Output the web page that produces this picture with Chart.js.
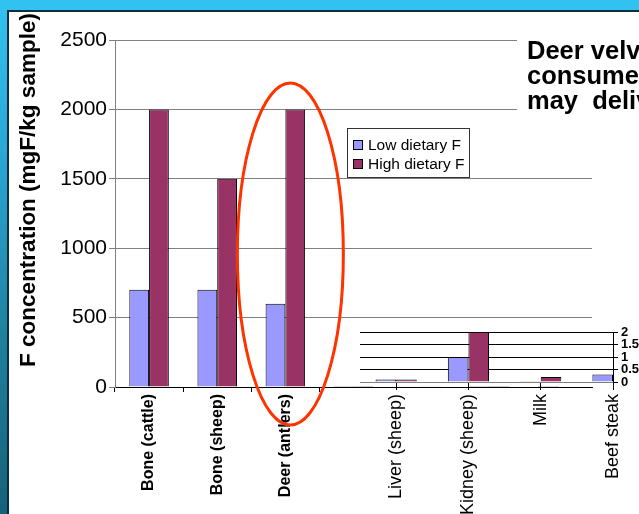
<!DOCTYPE html>
<html>
<head>
<meta charset="utf-8">
<script src="https://cdn.jsdelivr.net/npm/chart.js@4/dist/chart.umd.min.js"></script>
<style>
  html, body { margin: 0; padding: 0; width: 639px; height: 514px; overflow: hidden; }
  body {
    position: relative;
    background: linear-gradient(to bottom, #31c2f2 0%, #2aa7d6 30%, #20819f 65%, #17617a 100%);
    font-family: "Liberation Sans", Arial, sans-serif;
  }
  #band { position: absolute; left: 0; top: 0; width: 639px; height: 10px; background: #31c2f2; }
  #panel {
    position: absolute; left: 7px; top: 10px; right: 0; bottom: 0;
    background: #fff; border-left: 2px solid #0d2d3a; border-top: 2px solid #0d2d3a;
  }
  #main { position: absolute; left: 0; top: 0; }
  #inset { position: absolute; left: 340px; top: 300px; }
</style>
</head>
<body>
<div id="band"></div>
<div id="panel"></div>
<canvas id="main" width="639" height="514"></canvas>
<canvas id="inset" width="299" height="214"></canvas>
<script>
// Fluoride content of foods and tissues (mgF/kg sample)
const categories   = ['Bone (cattle)', 'Bone (sheep)', 'Deer (antlers)', 'Liver (sheep)', 'Kidney (sheep)', 'Milk', 'Beef steak'];
const seriesNames  = ['Low dietary F', 'High dietary F'];
const lowDietaryF  = [700, 700, 600, 0.1, 1.0, 0.03, 0.3];
const highDietaryF = [2000, 1500, 2000, 0.1, 2.0, 0.2, null];
const mainTicks    = [0, 500, 1000, 1500, 2000, 2500];
const insetTicks   = [0, 0.5, 1, 1.5, 2];
const insetFrom    = 3;            // first category shown on the enlarged scale
const highlighted  = 2;            // index of the circled category
const yTitle       = 'F concentration (mgF/kg sample)';
const noteLines    = ['Deer velvet', 'consumed', 'may  deliver'];

const LOW_COLOR  = '#9999ff';
const HIGH_COLOR = '#993366';
const FONT = '"Liberation Sans", Arial, sans-serif';

const insetCats = categories.slice(insetFrom);

// ---- main chart helpers -------------------------------------------------
const yTitlePlugin = {
  id: 'yTitle',
  afterDraw(chart) {
    const ctx = chart.ctx;
    ctx.save();
    ctx.translate(35, 190);
    ctx.rotate(-Math.PI / 2);
    ctx.font = 'bold 22.5px ' + FONT;
    ctx.fillStyle = '#000';
    ctx.textAlign = 'center';
    ctx.textBaseline = 'alphabetic';
    ctx.fillText(yTitle, 0, 0);
    ctx.restore();
  }
};

const notePlugin = {
  id: 'noteBox',
  afterDraw(chart) {
    const ctx = chart.ctx;
    ctx.save();
    ctx.fillStyle = '#fff';
    ctx.fillRect(517, 26, 122, 90);
    ctx.fillStyle = '#000';
    ctx.font = 'bold 25.5px ' + FONT;
    ctx.textBaseline = 'alphabetic';
    noteLines.forEach((t, i) => ctx.fillText(t, 527, 59 + i * 25));
    ctx.restore();
  }
};

const legendPlugin = {
  id: 'boxLegend',
  afterDraw(chart) {
    const ctx = chart.ctx;
    const x0 = 347, y0 = 128, w = 122, h = 49;
    ctx.save();
    ctx.fillStyle = '#fff';
    ctx.fillRect(x0, y0, w, h);
    ctx.strokeStyle = '#333';
    ctx.lineWidth = 1;
    ctx.strokeRect(x0 + 0.5, y0 + 0.5, w, h);
    ctx.font = '15.5px ' + FONT;
    ctx.textBaseline = 'middle';
    chart.data.datasets.forEach((ds, i) => {
      const cy = y0 + 17 + i * 19;
      ctx.fillStyle = ds.backgroundColor;
      ctx.fillRect(x0 + 6, cy - 5, 10, 10);
      ctx.strokeStyle = '#000';
      ctx.strokeRect(x0 + 6.5, cy - 4.5, 9, 9);
      ctx.fillStyle = '#000';
      ctx.fillText(ds.label, x0 + 21, cy + 1);
    });
    ctx.restore();
  }
};

const highlightPlugin = {
  id: 'highlight',
  afterDraw(chart) {
    const { ctx, scales: { x, y } } = chart;
    const cx = x.getPixelForValue(highlighted) + 5;
    const top = y.getPixelForValue(2190);
    const bottom = y.getPixelForValue(0) + 38;
    ctx.save();
    ctx.strokeStyle = '#ff3300';
    ctx.lineWidth = 3;
    ctx.beginPath();
    ctx.ellipse(cx, (top + bottom) / 2, 53, (bottom - top) / 2, 0, 0, Math.PI * 2);
    ctx.stroke();
    ctx.restore();
  }
};

new Chart(document.getElementById('main'), {
  type: 'bar',
  data: {
    labels: categories,
    datasets: [
      { label: seriesNames[0], data: lowDietaryF,  backgroundColor: LOW_COLOR,  borderColor: '#000', borderWidth: 1 },
      { label: seriesNames[1], data: highDietaryF, backgroundColor: HIGH_COLOR, borderColor: '#000', borderWidth: 1 }
    ]
  },
  options: {
    responsive: false,
    animation: false,
    devicePixelRatio: 1,
    layout: { padding: { left: 0, top: 40, right: 47, bottom: 0 } },
    datasets: { bar: { categoryPercentage: 0.58, barPercentage: 1 } },
    plugins: { legend: { display: false }, tooltip: { enabled: false } },
    scales: {
      x: {
        afterFit(s) { s.height = 127; },
        ticks: {
          autoSkip: false, maxRotation: 90, minRotation: 90, padding: 2,
          color: '#000', font: { family: FONT, size: 16, weight: 'bold' },
          callback: (v, i) => (i < insetFrom ? categories[i] : '')
        },
        grid: {
          drawOnChartArea: false, tickLength: 5,
          color: ctx => (ctx.index <= insetFrom ? '#000' : 'rgba(0,0,0,0)')
        },
        border: { color: '#000', width: 1 }
      },
      y: {
        min: 0, max: 2500,
        afterFit(s) { s.width = 115; },
        afterBuildTicks(s) { s.ticks = mainTicks.map(v => ({ value: v })); },
        ticks: { autoSkip: false, color: '#000', padding: 2, font: { family: FONT, size: 21 }, callback: v => String(v) },
        grid: { color: '#808080', tickColor: '#808080', tickLength: 6 },
        border: { color: '#808080' }
      }
    }
  },
  plugins: [notePlugin, legendPlugin, highlightPlugin, yTitlePlugin]
});

// ---- enlarged view of the low-concentration samples ---------------------
new Chart(document.getElementById('inset'), {
  type: 'bar',
  data: {
    datasets: [
      { label: seriesNames[0], data: lowDietaryF.slice(insetFrom).map((v, i) => ({ x: i, y: v })),
        backgroundColor: LOW_COLOR, borderColor: '#000', borderWidth: 1 },
      { label: seriesNames[1], data: highDietaryF.slice(insetFrom).map((v, i) => ({ x: i, y: v })),
        backgroundColor: HIGH_COLOR, borderColor: '#000', borderWidth: 1 }
    ]
  },
  options: {
    responsive: false,
    animation: false,
    devicePixelRatio: 1,
    layout: { padding: { left: 20, top: 32, right: 0, bottom: 0 } },
    datasets: { bar: { categoryPercentage: 0.57, barPercentage: 1 } },
    plugins: { legend: { display: false }, tooltip: { enabled: false } },
    scales: {
      x: {
        type: 'linear', min: -0.5, max: insetCats.length - 1, offset: false,
        afterFit(s) { s.height = 132; },
        afterBuildTicks(s) { s.ticks = insetCats.map((_, i) => ({ value: i })); },
        ticks: {
          autoSkip: false, maxRotation: 90, minRotation: 90, padding: 4,
          color: '#000', font: { family: FONT, size: 18 },
          callback: v => insetCats[v]
        },
        grid: { offset: false, drawOnChartArea: false, tickLength: 8, color: '#000' },
        border: { color: '#808080' }
      },
      y: {
        position: 'right', min: 0, max: 2,
        afterFit(s) { s.width = 26; },
        afterBuildTicks(s) { s.ticks = insetTicks.map(v => ({ value: v })); },
        ticks: { autoSkip: false, color: '#000', padding: 3, font: { family: FONT, size: 13, weight: 'bold' }, callback: v => String(v) },
        grid: {
          tickLength: 5, tickColor: '#000',
          color: ctx => (ctx.tick && ctx.tick.value === 0 ? '#808080' : '#000')
        },
        border: { color: '#000' }
      }
    }
  }
});
</script>
</body>
</html>
